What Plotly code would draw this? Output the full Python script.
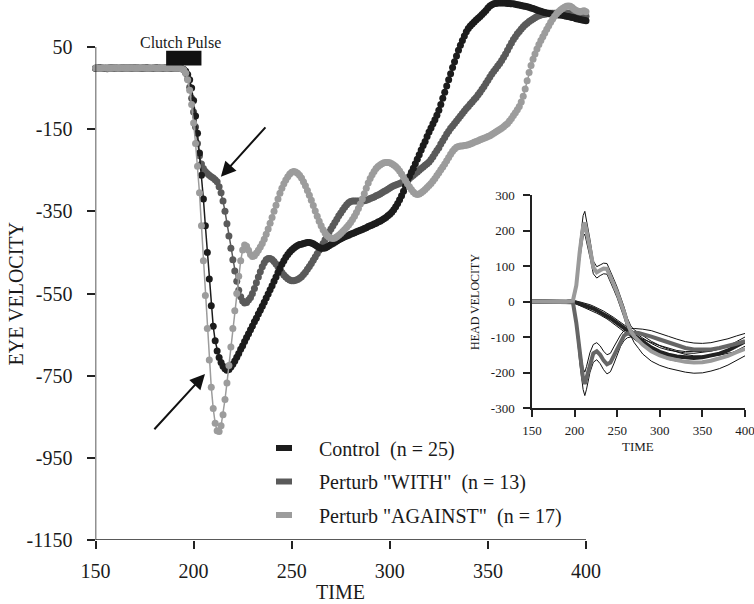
import plotly.graph_objects as go

# ---------------- DATA ----------------
time = list(range(150, 401))

control = [
    -2, -2, -1, -1, -2, -2, -3, -2, -1, -1,
    -2, -2, -2, -1, -1, -2, -2, -2, -1, -1,
    -1, -2, -2, -2, -1, -1, -1, -2, -2, -2,
    -1, -1, -2, -2, -2, -1, -1, -2, -2, -2,
    -2, -2, -2, -2, -3, -5, -9, -17, -30, -50,
    -80, -118, -160, -208, -262, -320, -385, -450, -515, -580,
    -630, -665, -690, -706, -718, -727, -733, -737, -735, -729,
    -722, -714, -705, -696, -686, -677, -667, -657, -648, -638,
    -629, -619, -610, -600, -591, -581, -571, -561, -551, -541,
    -531, -520, -510, -499, -489, -479, -470, -462, -455, -449,
    -444, -440, -436, -433, -431, -430, -428, -427, -426, -426,
    -427, -429, -432, -435, -438, -440, -440, -439, -437, -434,
    -431, -428, -425, -422, -419, -417, -414, -412, -410, -408,
    -406, -404, -402, -400, -398, -396, -394, -392, -390, -387,
    -385, -383, -381, -379, -376, -374, -371, -368, -365, -361,
    -357, -352, -346, -339, -331, -322, -312, -301, -289, -277,
    -265, -255, -245, -234, -223, -212, -201, -190, -180, -168,
    -157, -147, -137, -127, -116, -104, -90, -75, -60, -45,
    -30, -15, 0, 14, 28, 42, 54, 66, 77, 87,
    95, 101, 106, 111, 116, 120, 124, 129, 134, 139,
    145, 150, 153, 155, 156, 157, 157, 157, 157, 157,
    156, 156, 155, 155, 154, 153, 152, 151, 150, 149,
    148, 147, 145, 144, 142, 140, 138, 137, 135, 134,
    133, 132, 131, 130, 129, 129, 128, 128, 127, 126,
    125, 124, 123, 122, 121, 119, 118, 117, 116, 115,
    114,
]

perturb_with = [
    -2, -1, -1, -2, -2, -2, -1, -1, -2, -2,
    -1, -1, -2, -2, -2, -1, -1, -1, -2, -2,
    -2, -1, -1, -2, -2, -2, -1, -1, -2, -2,
    -2, -1, -1, -1, -2, -2, -2, -1, -1, -2,
    -2, -2, -2, -2, -3, -6, -14, -28, -48, -75,
    -108, -145, -185, -215, -235, -246, -253, -258, -262, -266,
    -269, -273, -278, -290, -305, -325, -350, -380, -410, -440,
    -468, -495, -520, -542, -558, -568, -573, -572, -566, -560,
    -550, -538, -524, -510, -497, -485, -475, -468, -465, -465,
    -467, -472, -478, -485, -492, -499, -505, -510, -514, -517,
    -519, -519, -518, -516, -513, -509, -504, -498, -491, -484,
    -477, -469, -461, -453, -445, -437, -428, -419, -410, -401,
    -393, -385, -377, -369, -361, -354, -347, -340, -334, -329,
    -326, -325, -325, -325, -325, -325, -325, -324, -323, -321,
    -319, -317, -315, -312, -310, -308, -305, -302, -299, -296,
    -293, -290, -288, -286, -284, -282, -280, -278, -276, -273,
    -270, -266, -262, -258, -254, -250, -246, -242, -238, -234,
    -230, -224, -217, -209, -202, -195, -186, -178, -170, -162,
    -155, -148, -142, -136, -130, -124, -118, -112, -106, -100,
    -95, -89, -84, -78, -73, -66, -60, -53, -46, -38,
    -31, -23, -16, -9, -3, 4, 10, 17, 25, 33,
    42, 51, 60, 68, 75, 82, 88, 94, 99, 104,
    108, 112, 115, 118, 121, 124, 126, 128, 129, 130,
    131, 131, 132, 132, 132, 132, 132, 132, 132, 132,
    132, 132, 131, 131, 130, 130, 129, 128, 127, 126,
    125,
]

perturb_against = [
    -1, -2, -2, -2, -1, -1, -2, -2, -2, -1,
    -1, -2, -2, -1, -1, -2, -2, -2, -1, -1,
    -2, -2, -2, -1, -1, -1, -2, -2, -2, -1,
    -1, -2, -2, -2, -1, -1, -2, -2, -1, -1,
    -2, -2, -2, -2, -3, -6, -14, -30, -55, -90,
    -135, -185, -240, -305, -385, -470, -555, -635, -712, -778,
    -830, -866, -884, -886, -872, -845, -808, -768, -725, -680,
    -635, -592, -550, -508, -470, -444, -432, -435, -445, -455,
    -460, -458, -452, -445, -437, -428, -418, -406, -393, -379,
    -365, -350, -335, -320, -306, -294, -283, -274, -266, -259,
    -255, -253, -254, -257, -262, -269, -278, -288, -299, -311,
    -323, -336, -349, -362, -374, -385, -395, -403, -409, -413,
    -415, -416, -415, -412, -408, -404, -399, -394, -389, -383,
    -377, -370, -362, -353, -343, -332, -320, -307, -294, -281,
    -270, -261, -253, -246, -241, -237, -234, -232, -231, -231,
    -232, -234, -237, -241, -246, -252, -259, -267, -275, -283,
    -290, -297, -303, -307, -309, -308, -305, -301, -297, -292,
    -287, -282, -276, -270, -263, -256, -249, -242, -235, -227,
    -219, -211, -204, -198, -194, -192, -191, -191, -190, -189,
    -188, -186, -184, -182, -180, -178, -176, -174, -172, -170,
    -168, -166, -163, -160, -157, -154, -151, -148, -144, -140,
    -136, -130, -124, -117, -110, -103, -95, -84, -70, -52,
    -32, -12, 5, 20, 33, 45, 56, 66, 75, 84,
    93, 102, 110, 118, 125, 131, 136, 140, 144, 147,
    149, 150, 149, 146, 142, 139, 137, 136, 137, 138,
    136,
]

# inset (head velocity): means and SDs
inset_time = [150, 160, 170, 180, 190, 198, 202, 206, 210, 212,
              214, 218, 222, 226, 230, 234, 238, 242, 246, 250,
              254, 258, 262, 266, 270, 275, 280, 290, 300, 310,
              320, 330, 340, 350, 360, 370, 380, 390, 400]
head_against = [0, 0, 0, 0, -1, 2, 45, 140, 212, 222,
                200, 150, 96, 82, 88, 93, 92, 72, 48, 25,
                0, -30, -62, -84, -98, -110, -122, -140, -152, -160,
                -166, -170, -172, -171, -167, -161, -153, -143, -133]
head_against_sd = [4, 4, 4, 4, 4, 4, 12, 22, 30, 32,
                   30, 25, 18, 16, 15, 15, 15, 15, 15, 15,
                   15, 15, 15, 15, 18, 22, 26, 28, 28, 28,
                   28, 29, 30, 30, 29, 28, 26, 23, 20]
head_with = [0, 0, 0, 0, -1, -2, -60, -150, -218, -232,
             -215, -172, -146, -140, -150, -166, -177, -172, -152, -130,
             -110, -96, -90, -88, -88, -89, -92, -99, -107, -116,
             -124, -131, -135, -136, -135, -131, -126, -119, -112]
head_with_sd = [4, 4, 4, 4, 4, 4, 12, 22, 30, 33,
                32, 28, 25, 24, 25, 26, 27, 26, 24, 20,
                16, 14, 12, 12, 12, 13, 14, 17, 18, 18,
                18, 18, 18, 18, 19, 20, 21, 22, 22]
head_control = [0, 0, 0, 0, -1, -1, -3, -6, -9, -11,
                -13, -16, -20, -25, -30, -35, -41, -47, -54, -61,
                -68, -75, -82, -89, -96, -105, -114, -130, -142, -150,
                -155, -158, -159, -157, -153, -147, -138, -126, -113]
head_control_sd = [3, 3, 3, 3, 3, 3, 4, 5, 6, 6,
                   6, 7, 7, 8, 8, 8, 8, 9, 9, 9,
                   9, 10, 10, 10, 10, 11, 11, 12, 12, 13,
                   13, 13, 13, 13, 13, 13, 13, 13, 13]

x_ticks = [150, 200, 250, 300, 350, 400]
x_tick_labels = ["150", "200", "250", "300", "350", "400"]
y_ticks = [-1150, -950, -750, -550, -350, -150, 50]
y_tick_labels = ["-1150", "-950", "-750", "-550", "-350", "-150", "50"]
inset_y_ticks = [-300, -200, -100, 0, 100, 200, 300]
inset_y_tick_labels = ["-300", "-200", "-100", "0", "100", "200", "300"]

legend_labels = ['Control\u00a0\u00a0(n\u00a0=\u00a025)',
                 'Perturb "WITH"\u00a0\u00a0(n\u00a0=\u00a013)',
                 'Perturb "AGAINST"\u00a0\u00a0(n\u00a0=\u00a017)']

# ---------------- STYLE ----------------
W, H = 754, 604
FONT = "Liberation Serif, Times New Roman, serif"
INK = "#1a1a1a"
C_CTRL, C_WITH, C_AGN = "#1c1c1c", "#5a5a5a", "#9c9c9c"


def fx(p):
    return p / W


def fy(p):
    return 1 - p / H


fig = go.Figure()

# main series (drawn WITH, Control, AGAINST so light gray is on top)
for ys, col in [(perturb_with, C_WITH), (control, C_CTRL), (perturb_against, C_AGN)]:
    fig.add_trace(go.Scatter(
        x=time, y=ys, mode="lines+markers", xaxis="x", yaxis="y",
        line=dict(color=col, width=1.5),
        marker=dict(color=col, size=7, line=dict(width=0)),
        cliponaxis=False, hoverinfo="skip"))

# inset: SD lines then means
for m, sd in [(head_against, head_against_sd), (head_with, head_with_sd),
              (head_control, head_control_sd)]:
    up = [a + b for a, b in zip(m, sd)]
    lo = [a - b for a, b in zip(m, sd)]
    for ys in (up, lo):
        fig.add_trace(go.Scatter(x=inset_time, y=ys, mode="lines", xaxis="x2", yaxis="y2",
                                 line=dict(color="#111", width=1), hoverinfo="skip"))
for m, col in [(head_control, "#222222"), (head_with, "#666666"), (head_against, "#9a9a9a")]:
    fig.add_trace(go.Scatter(x=inset_time, y=m, mode="lines", xaxis="x2", yaxis="y2",
                             line=dict(color=col, width=4), hoverinfo="skip"))

axis_common = dict(showgrid=False, zeroline=False, ticks="outside", tickcolor="#222",
                   tickwidth=1.5, color=INK, automargin=False, tickmode="array",
                   ticklabeloverflow="allow")

fig.update_layout(
    width=W, height=H,
    margin=dict(l=0, r=0, t=0, b=0, autoexpand=False),
    paper_bgcolor="white", plot_bgcolor="rgba(0,0,0,0)",
    showlegend=False,
    font=dict(family=FONT, color=INK, size=20),
    xaxis=dict(domain=[95.5 / W, 586 / W], range=[150, 400], anchor="y",
               tickvals=x_ticks, ticktext=x_tick_labels, ticklen=8, showline=False,
               tickfont=dict(size=20), ticklabelstandoff=5, **axis_common),
    yaxis=dict(domain=[1 - 540 / H, 1], range=[-1150, 164.4], anchor="x",
               tickvals=y_ticks, ticktext=y_tick_labels, ticklen=8, showline=False,
               tickfont=dict(size=20), ticklabelstandoff=10, **axis_common),
    xaxis2=dict(domain=[532 / W, 745 / W], range=[150, 400], anchor="y2",
                tickvals=x_ticks, ticktext=x_tick_labels, ticklen=7, showline=True,
                linecolor="#222", linewidth=1.5,
                tickfont=dict(size=13), ticklabelstandoff=3, **axis_common),
    yaxis2=dict(domain=[1 - 408 / H, 1 - 195 / H], range=[-300, 300], anchor="x2",
                tickvals=inset_y_ticks, ticktext=inset_y_tick_labels, ticklen=7, showline=True,
                linecolor="#222", linewidth=1.5,
                tickfont=dict(size=13), ticklabelstandoff=6, **axis_common),
)

shapes = [
    # main axis lines
    dict(type="line", xref="x", yref="y", x0=150, x1=150, y0=-1150, y1=50,
         line=dict(color="#222", width=1.5)),
    dict(type="line", xref="x", yref="y", x0=150, x1=400, y0=-1150, y1=-1150,
         line=dict(color="#222", width=1.5)),
    # clutch pulse bar
    dict(type="rect", xref="x", yref="y", x0=186, x1=204, y0=5, y1=41,
         fillcolor="#111", line=dict(width=0)),
]
leg_y = [448, 481.5, 515]
leg_cols = [C_CTRL, C_WITH, C_AGN]
for yy, col in zip(leg_y, leg_cols):
    shapes.append(dict(type="rect", xref="paper", yref="paper",
                       x0=fx(276), x1=fx(292), y0=fy(yy + 3), y1=fy(yy - 3),
                       fillcolor=col, line=dict(width=0)))
fig.update_layout(shapes=shapes)

ann = [
    dict(text="Clutch Pulse", x=193.5, y=62, xref="x", yref="y", showarrow=False,
         font=dict(size=16), xanchor="center", yanchor="middle"),
    dict(text="EYE VELOCITY", x=fx(15), y=fy(293.5), xref="paper", yref="paper",
         showarrow=False, textangle=-90, font=dict(size=20), xanchor="center", yanchor="middle"),
    dict(text="TIME", x=fx(340), y=fy(592), xref="paper", yref="paper",
         showarrow=False, font=dict(size=20), xanchor="center", yanchor="middle"),
    dict(text="HEAD VELOCITY", x=fx(475), y=fy(302), xref="paper", yref="paper",
         showarrow=False, textangle=-90, font=dict(size=12), xanchor="center", yanchor="middle"),
    dict(text="TIME", x=fx(638), y=fy(447), xref="paper", yref="paper",
         showarrow=False, font=dict(size=13), xanchor="center", yanchor="middle"),
    # arrows
    dict(text="", x=213.9, y=-266, ax=237.3, ay=-142, xref="x", yref="y", axref="x", ayref="y",
         showarrow=True, arrowhead=2, arrowsize=1.5, arrowwidth=2, arrowcolor="#111"),
    dict(text="", x=205.8, y=-746, ax=179.3, ay=-884, xref="x", yref="y", axref="x", ayref="y",
         showarrow=True, arrowhead=2, arrowsize=1.5, arrowwidth=2, arrowcolor="#111"),
]
for yy, lab in zip(leg_y, legend_labels):
    ann.append(dict(text=lab, x=fx(317), y=fy(yy + 1), xref="paper", yref="paper",
                    showarrow=False, font=dict(size=20), xanchor="left", yanchor="middle"))
fig.update_layout(annotations=ann)

fig.write_html("out.html", config={"displayModeBar": False},
               post_script="document.body.style.margin='0px';")
